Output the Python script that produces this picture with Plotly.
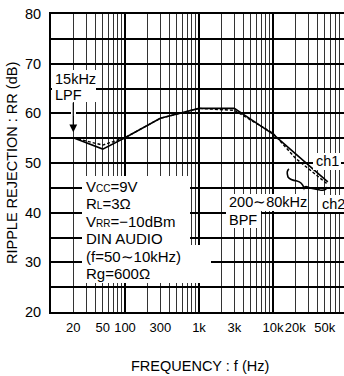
import numpy as np
import plotly.graph_objects as go

# ---- data ----
freq_hz = [20, 50, 100, 300, 1000, 3000, 10000, 20000, 55000]
rr_ch1 = [55.1, 52.8, 55.1, 59.0, 61.0, 61.0, 55.8, 51.9, 46.2]
rr_ch2 = [55.1, 53.6, 55.1, 59.0, 61.0, 60.6, 56.0, 51.0, 45.7]
x_tick_vals = [20, 50, 100, 300, 1000, 3000, 10000, 20000, 50000]
x_tick_text = ["20", "50", "100", "300", "1k", "3k", "10k", "20k", "50k"]
y_tick_vals = [20, 30, 40, 50, 60, 70, 80]
decades = [10, 100, 1000, 10000, 100000]
minor_vals = [d * k for d in [10, 100, 1000, 10000] for k in range(2, 10)]

FONT = "Liberation Sans, Arial, Helvetica, sans-serif"
W_FIG, H_FIG = 344, 376
# plot area in page pixels
PL, PT, PW, PH = 51, 14, 293, 298
XR = [1, 1 + PW / 74.0]


def px(x):
    return (x - PL) / PW


def py(y):
    return (PT + PH - y) / PH


fig = go.Figure()
fig.add_trace(go.Scatter(x=freq_hz, y=rr_ch2, mode="lines",
                         line=dict(color="black", width=1.4, dash="3px,2px"),
                         showlegend=False, hoverinfo="skip"))
fig.add_trace(go.Scatter(x=freq_hz, y=rr_ch1, mode="lines",
                         line=dict(color="black", width=1.6),
                         showlegend=False, hoverinfo="skip"))
# invisible trace to carry the decade-grid overlay axis
fig.add_trace(go.Scatter(x=[decades[1]], y=[50], xaxis="x2", mode="markers",
                         marker=dict(opacity=0), showlegend=False, hoverinfo="skip"))

shapes = []


def white_rect(x0, y0, x1, y1):
    shapes.append(dict(type="rect", xref="paper", yref="paper",
                       x0=px(x0), x1=px(x1), y0=py(y1), y1=py(y0),
                       fillcolor="white", line=dict(width=0), layer="above"))


white_rect(52, 70, 96, 102)      # 15kHz LPF
white_rect(71, 110, 76, 116)     # gap around arrow
white_rect(82, 176, 190, 245)    # parameter box rows 1-4
white_rect(82, 245, 211, 283)    # parameter box rows 5-6
white_rect(313, 153, 341, 170)   # ch1
white_rect(318, 195, 344, 212)   # ch2
white_rect(226, 194, 308, 211)   # 200~80kHz
white_rect(226, 211, 261, 228)   # BPF

# brace
pts = [(289, 169), (286, 171), (288, 177), (290, 180), (297, 181), (302, 182),
       (304, 188), (305, 185), (310, 188), (320, 190), (326, 191), (327, 187)]
p = [(px(a), py(b)) for a, b in pts]
path = "M {},{} Q {},{} {},{} Q {},{} {},{} Q {},{} {},{} Q {},{} {},{} L {},{} Q {},{} {},{}".format(
    *[v for pt in p for v in pt])
shapes.append(dict(type="path", xref="paper", yref="paper", path=path,
                   line=dict(color="black", width=1.6), layer="above"))

annotations = []


def txt(s, x, y, size=14.5, anchor="left"):
    annotations.append(dict(text=s, xref="paper", yref="paper", x=px(x), y=py(y),
                            xanchor=anchor, yanchor="middle", showarrow=False,
                            font=dict(family=FONT, size=size, color="black")))


sm = '<span style="font-size:10px">{}</span>'
txt("15kHz", 53, 79)
txt("LPF", 53, 95)
txt("V" + sm.format("CC") + "=9V", 84, 186, 15)
txt("R" + sm.format("L") + "=3Ω", 84, 203, 15)
txt("V" + sm.format("RR") + "=−10dBm", 84, 221, 15)
txt("DIN AUDIO", 84, 238, 15)
txt("(f=50∼10kHz)", 84, 256, 15)
txt("Rg=600Ω", 84, 273, 15)
txt("ch1", 314, 161)
txt("ch2", 320, 204)
txt("200∼80kHz", 227, 202)
txt("BPF", 227, 220)
txt("FREQUENCY : f (Hz)", 200, 366, 14.5, "center")
annotations.append(dict(text="RIPPLE REJECTION : RR (dB)", xref="paper", yref="paper",
                        x=px(12), y=py(163), textangle=-90, showarrow=False,
                        xanchor="center", yanchor="middle",
                        font=dict(family=FONT, size=14.5, color="black")))
# arrow from LPF label to the curve
annotations.append(dict(text="", xref="x", yref="y", x=np.log10(freq_hz[0]), y=56.2,
                        ax=0, ay=-31, showarrow=True, arrowhead=2, arrowsize=1.3,
                        arrowwidth=1.2, arrowcolor="black"))

fig.update_layout(
    width=W_FIG, height=H_FIG,
    margin=dict(l=PL, r=W_FIG - PL - PW, t=PT, b=H_FIG - PT - PH, autoexpand=False),
    paper_bgcolor="white", plot_bgcolor="white",
    font=dict(family=FONT, color="black"),
    shapes=shapes, annotations=annotations,
    xaxis=dict(type="log", range=XR, tickvals=x_tick_vals, ticktext=x_tick_text,
               tickangle=0, automargin=False,
               showgrid=False, zeroline=False, ticks="", ticklabelstandoff=2,
               tickfont=dict(family=FONT, size=13, color="black"),
               showline=True, linecolor="black", linewidth=2, mirror=True,
               minor=dict(tickvals=minor_vals, showgrid=True, gridcolor="#333",
                          gridwidth=1, ticks="")),
    xaxis2=dict(type="log", range=XR, overlaying="x", anchor="y", side="bottom",
                tickvals=decades, showticklabels=False, showgrid=True, automargin=False,
                gridcolor="black", gridwidth=2, zeroline=False, ticks="",
                showline=False),
    yaxis=dict(range=[20, 80], tickvals=y_tick_vals, showgrid=True, automargin=False,
               gridcolor="black", gridwidth=1.5, zeroline=False, ticks="",
               ticklabelstandoff=5,
               tickfont=dict(family=FONT, size=14.5, color="black"),
               showline=True, linecolor="black", linewidth=2,
               minor=dict(dtick=5, showgrid=True, gridcolor="black", gridwidth=1.5,
                          ticks="")),
)

fig.write_html("out.html", config={"displayModeBar": False},
               post_script="document.body.style.margin='0';")
